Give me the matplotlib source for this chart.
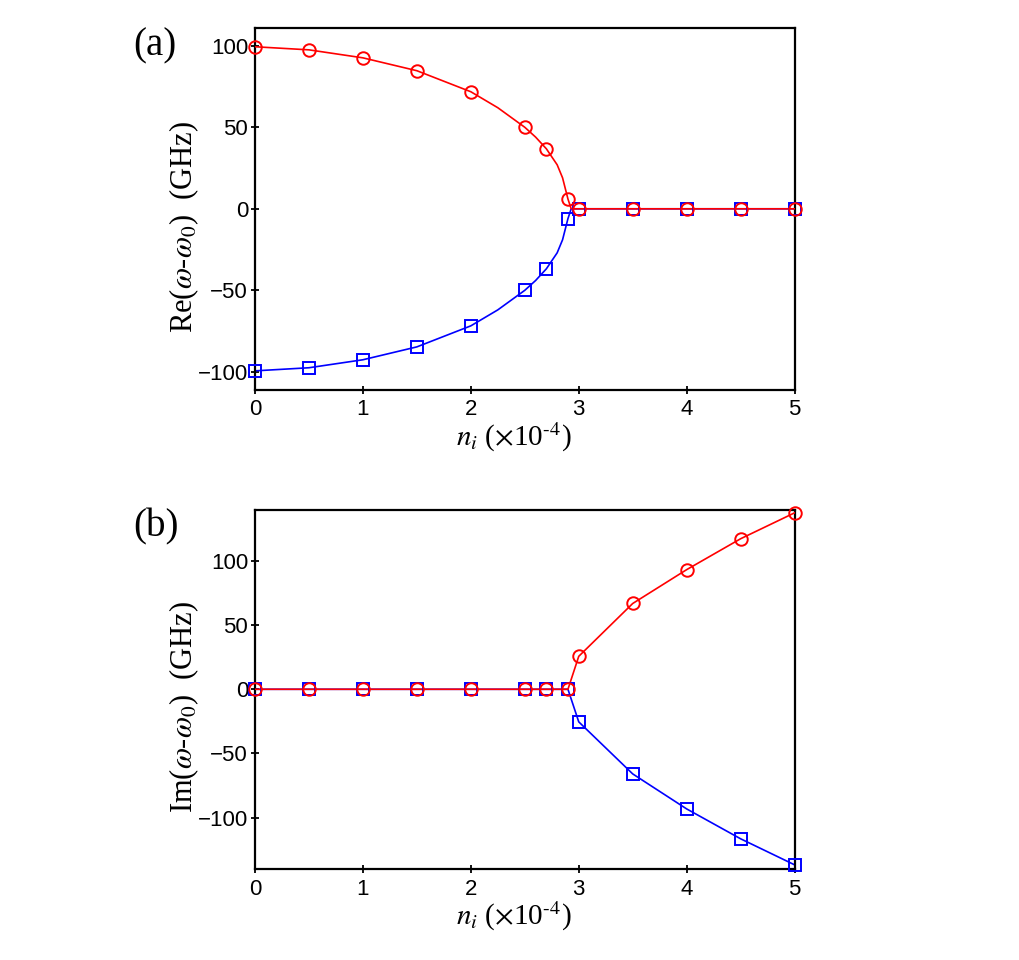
import numpy as np
import matplotlib
matplotlib.use("Agg")
import matplotlib.pyplot as plt

# ── Data ──────────────────────────────────────────────────────────────────────

N_I = [0, 0.5, 1, 1.5, 2, 2.5, 2.7, 2.9, 3, 3.5, 4, 4.5, 5]

RE_UP = [99.4, 97.5, 92.6, 84.7, 71.8, 50.0, 36.8, 6.0, 0, 0, 0, 0, 0]
RE_DN = [-99.4, -97.5, -92.6, -84.7, -71.8, -50.0, -36.8, -6.0, 0, 0, 0, 0, 0]

IM_UP = [0, 0, 0, 0, 0, 0, 0, 0, 25.7, 66.9, 93.3, 117.4, 137.6]
IM_DN = [0, 0, 0, 0, 0, 0, 0, 0, -25.4, -66.0, -93.3, -116.6, -136.9]

# continuous curve in panel (a), read at a finer set of n_i
N_LINE = [0, 0.5, 1, 1.5, 2, 2.25, 2.5, 2.6, 2.7, 2.8, 2.85, 2.9, 2.93, 3, 3.5, 4, 4.5, 5]
RE_LINE_UP = [99.4, 97.5, 92.6, 84.7, 71.8, 62.0, 50.0, 44.0, 36.8, 27.0, 19.0,
              6.0, 0, 0, 0, 0, 0, 0]
RE_LINE_DN = [-v for v in RE_LINE_UP]

RED = "#ff0000"
BLUE = "#0000ff"

plt.rcParams["mathtext.fontset"] = "stix"
plt.rcParams["font.family"] = ["Liberation Sans", "DejaVu Sans"]

SERIF = ["Liberation Serif", "DejaVu Serif"]

fig = plt.figure(figsize=(10.2, 9.6), dpi=100)
ax_a = fig.add_axes([0.25, 0.594, 0.529, 0.377])
ax_b = fig.add_axes([0.25, 0.095, 0.529, 0.374])


def style_axes(ax):
    ax.set_xlim(0, 5)
    ax.set_xticks([0, 1, 2, 3, 4, 5])
    ax.tick_params(direction="inout", length=6, width=1.3, labelsize=16)
    ax.tick_params(axis="x", pad=4)
    ax.tick_params(axis="y", pad=2)
    for sp in ax.spines.values():
        sp.set_linewidth(1.6)
    ax.set_xlabel(r"$n_i$ ($\times$10$^{\text{-4}}$)", fontsize=21,
                  family=SERIF, labelpad=0)
    ax.xaxis.set_label_coords(0.48, -0.085)
    ax.yaxis.set_label_coords(-0.10, 0.45)


mk = dict(ms=9, mew=1.4, linestyle="none", clip_on=False, zorder=4)

# ── (a) real part ──
ax_a.plot(N_LINE, RE_LINE_DN, color=BLUE, lw=1.2, zorder=2)
ax_a.plot(N_LINE, RE_LINE_UP, color=RED, lw=1.2, zorder=3)
ax_a.plot(N_I, RE_DN, marker="s", color=BLUE, mfc="none", **mk)
ax_a.plot(N_I, RE_UP, marker="o", color=RED, mfc="none", **mk)
ax_a.set_ylim(-111, 111)
ax_a.set_yticks([-100, -50, 0, 50, 100])
ax_a.set_ylabel(r"Re($\omega$-$\omega_0$)  (GHz)", fontsize=22, family=SERIF)
style_axes(ax_a)

# ── (b) imaginary part ──
ax_b.plot(N_I, IM_DN, color=BLUE, lw=1.2, zorder=2)
ax_b.plot(N_I, IM_UP, color=RED, lw=1.2, zorder=3)
ax_b.plot(N_I, IM_DN, marker="s", color=BLUE, mfc="none", **mk)
ax_b.plot(N_I, IM_UP, marker="o", color=RED, mfc="none", **mk)
ax_b.set_ylim(-140, 140)
ax_b.set_yticks([-100, -50, 0, 50, 100])
ax_b.set_ylabel(r"Im($\omega$-$\omega_0$)  (GHz)", fontsize=22, family=SERIF)
style_axes(ax_b)

fig.text(0.131, 0.952, "(a)", fontsize=28, family=SERIF, ha="left", va="center")
fig.text(0.131, 0.451, "(b)", fontsize=28, family=SERIF, ha="left", va="center")

fig.savefig("out.png", dpi=100)
